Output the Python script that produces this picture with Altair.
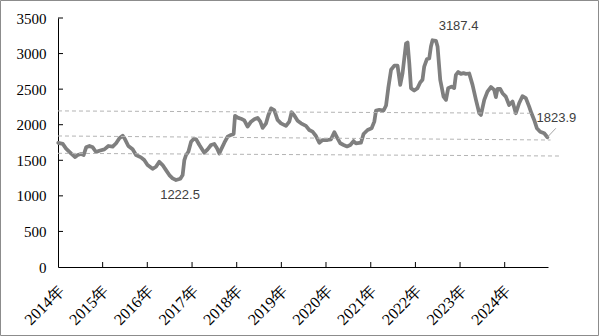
import altair as alt
import pandas as pd

# ---- main series ----
dates = [
    "2014-01-03", "2014-02-09", "2014-03-08", "2014-04-17", "2014-05-21", "2014-06-11",
    "2014-07-09", "2014-07-30", "2014-08-19", "2014-09-15", "2014-10-12", "2014-11-08",
    "2014-12-05", "2015-01-15", "2015-02-17", "2015-03-24", "2015-04-21", "2015-05-18",
    "2015-06-14", "2015-07-03", "2015-07-30", "2015-09-03", "2015-10-01", "2015-11-10",
    "2015-12-07", "2016-01-03", "2016-02-13", "2016-03-12", "2016-04-08", "2016-05-05",
    "2016-06-02", "2016-06-29", "2016-07-26", "2016-08-23", "2016-09-27", "2016-10-16",
    "2016-10-30", "2016-11-13", "2016-12-02", "2016-12-24", "2017-01-14", "2017-02-03",
    "2017-03-02", "2017-04-11", "2017-05-08", "2017-06-05", "2017-07-02", "2017-07-24",
    "2017-08-12", "2017-08-31", "2017-09-22", "2017-10-19", "2017-11-15", "2017-12-07",
    "2017-12-18", "2018-01-09", "2018-02-05", "2018-03-04", "2018-03-31", "2018-04-28",
    "2018-05-25", "2018-06-21", "2018-07-13", "2018-08-01", "2018-08-29", "2018-09-16",
    "2018-10-09", "2018-11-04", "2018-12-01", "2018-12-29", "2019-02-08", "2019-03-07",
    "2019-03-26", "2019-04-17", "2019-05-14", "2019-06-11", "2019-07-21", "2019-08-17",
    "2019-09-13", "2019-10-11", "2019-11-07", "2019-12-04", "2020-01-14", "2020-02-11",
    "2020-03-09", "2020-03-31", "2020-04-27", "2020-05-24", "2020-06-21", "2020-07-18",
    "2020-08-13", "2020-09-02", "2020-10-13", "2020-11-03", "2020-12-06", "2021-01-08",
    "2021-01-30", "2021-02-13", "2021-03-12", "2021-04-16", "2021-05-06", "2021-05-24",
    "2021-06-16", "2021-07-13", "2021-08-08", "2021-08-30", "2021-09-18", "2021-10-16",
    "2021-10-29", "2021-11-12", "2021-11-26", "2021-12-22", "2022-01-18", "2022-02-09",
    "2022-02-28", "2022-03-14", "2022-04-05", "2022-04-24", "2022-05-08", "2022-05-21",
    "2022-06-18", "2022-07-01", "2022-07-23", "2022-08-19", "2022-09-08", "2022-09-26",
    "2022-10-23", "2022-11-14", "2022-11-28", "2022-12-17", "2023-01-08", "2023-01-29",
    "2023-02-18", "2023-03-17", "2023-04-13", "2023-05-11", "2023-06-07", "2023-06-21",
    "2023-07-18", "2023-08-13", "2023-09-10", "2023-10-07", "2023-10-21", "2023-11-03",
    "2023-11-25", "2023-12-14", "2024-01-10", "2024-02-06", "2024-03-05", "2024-04-01",
    "2024-04-28", "2024-05-25", "2024-06-22", "2024-07-19", "2024-08-07", "2024-08-29",
    "2024-09-20", "2024-10-17", "2024-11-19", "2024-12-15",
]
values = [
    1745, 1730, 1665, 1598, 1545, 1574,
    1588, 1574, 1682, 1701, 1682, 1616,
    1634, 1654, 1701, 1691, 1739, 1809,
    1845, 1795, 1701, 1654, 1574, 1541,
    1503, 1433, 1380, 1409, 1479, 1433,
    1362, 1292, 1246, 1222.5, 1240, 1292,
    1503, 1574, 1620, 1761, 1800, 1795,
    1715, 1606, 1654, 1715, 1730, 1668,
    1595, 1668, 1747, 1832, 1856, 1870,
    2125, 2100, 2085, 2060, 1973, 2043,
    2077, 2095, 2043, 1955, 2020, 2130,
    2230, 2205, 2067, 2020, 1983, 2043,
    2175, 2130, 2057, 2020, 1983, 1926,
    1902, 1842, 1747, 1785, 1785, 1795,
    1895, 1823, 1739, 1715, 1695, 1715,
    1770, 1739, 1747, 1870, 1926, 1950,
    2043, 2200, 2210, 2200, 2270, 2514,
    2772, 2830, 2830, 2560, 2725, 3140,
    3155, 2866, 2514, 2480, 2514, 2593,
    2631, 2818, 2922, 2930, 3100, 3187.4,
    3180, 3100, 2631, 2395, 2349, 2514,
    2536, 2514, 2701, 2740, 2715, 2725,
    2715, 2720, 2560, 2349, 2161, 2137,
    2349, 2466, 2530, 2490, 2387, 2505,
    2505, 2443, 2395, 2278, 2325, 2161,
    2302, 2400, 2373, 2254, 2161, 2067,
    1950, 1902, 1880, 1823.9,
]

# ---- dashed reference lines (start / end) ----
ref_start_dates = ["2014-01-01", "2014-01-01", "2014-01-01"]
ref_start_values = [2194, 1842, 1598]
ref_end_dates = ["2024-08-12", "2025-01-10", "2025-04-04"]
ref_end_values = [2161, 1785, 1560]

# ---- annotations ----
ann_dates = ["2022-05-21", "2016-08-23", "2024-12-15"]
ann_values = [3187.4, 1222.5, 1823.9]
ann_texts = ["3187.4", "1222.5", "1823.9"]
leader_end_date = "2025-02-22"
leader_end_value = 1950

years = list(range(2014, 2025))
y_ticks = [0, 500, 1000, 1500, 2000, 2500, 3000, 3500]

W, H = 490, 249
SERIF = "Times New Roman, Liberation Serif, serif"

series = pd.DataFrame({"date": pd.to_datetime(dates), "value": values})
refs = pd.DataFrame({
    "date": pd.to_datetime(ref_start_dates), "value": ref_start_values,
    "d2": pd.to_datetime(ref_end_dates), "v2": ref_end_values,
})
ann = pd.DataFrame({"date": pd.to_datetime(ann_dates), "value": ann_values, "text": ann_texts})
leader = pd.DataFrame({
    "date": pd.to_datetime([ann_dates[2]]), "value": [ann_values[2]],
    "d2": pd.to_datetime([leader_end_date]), "v2": [leader_end_value],
})
xticks = pd.DataFrame({"date": pd.to_datetime([f"{y}-01-01" for y in years[1:]])})
yticks = pd.DataFrame({"value": y_ticks[1:]})

xscale = alt.Scale(domain=[alt.DateTime(year=2014, month=1, date=1),
                           alt.DateTime(year=2024, month=12, date=20)])
yscale = alt.Scale(domain=[0, 3500])

xaxis = alt.Axis(
    values=[alt.DateTime(year=y, month=1, date=1) for y in years],
    format="%Y年", labelAngle=-45, labelAlign="right", labelBaseline="middle",
    tickSize=0, labelPadding=21, labelOffset=3, grid=False, title=None,
    labelFont=SERIF, labelFontSize=16, labelOverlap=False,
    labelColor="#000000", domainColor="#000000",
)
yaxis = alt.Axis(
    values=y_ticks, format="d", tickSize=0, labelPadding=12, grid=False, title=None,
    labelFont=SERIF, labelFontSize=15, labelOverlap=False,
    labelColor="#000000", domainColor="#000000",
)

X = alt.X("date:T", scale=xscale, axis=xaxis)
Y = alt.Y("value:Q", scale=yscale, axis=yaxis)

line = alt.Chart(series).mark_line(
    color="#7f7f7f", strokeWidth=3.75, strokeJoin="round", strokeCap="round"
).encode(x=X, y=Y)

ref_lines = alt.Chart(refs).mark_rule(
    color="#b4b4b4", strokeWidth=1, strokeDash=[4, 3]
).encode(x=X, y=Y, x2="d2:T", y2="v2:Q")

xtick_marks = alt.Chart(xticks).mark_rule(color="#000000", strokeWidth=1).encode(
    x=X, y=alt.value(H - 5), y2=alt.value(H)
)
ytick_marks = alt.Chart(yticks).mark_rule(color="#000000", strokeWidth=1).encode(
    y=Y, x=alt.value(0), x2=alt.value(5)
)

txt_style = dict(font="Liberation Sans", fontSize=13, color="#404040")
t_peak = alt.Chart(ann).transform_filter(alt.datum.text == "3187.4").mark_text(
    dx=26, dy=-14, **txt_style).encode(x=X, y=Y, text="text:N")
t_min = alt.Chart(ann).transform_filter(alt.datum.text == "1222.5").mark_text(
    dx=4, dy=15, **txt_style).encode(x=X, y=Y, text="text:N")
t_end = alt.Chart(ann).transform_filter(alt.datum.text == "1823.9").mark_text(
    dx=9, dy=-19, **txt_style).encode(x=X, y=Y, text="text:N")
leader_line = alt.Chart(leader).mark_rule(color="#a6a6a6", strokeWidth=1).encode(
    x=X, y=Y, x2="d2:T", y2="v2:Q"
)

frame = alt.Chart(pd.DataFrame({"k": [0]})).mark_rect(
    fill=None, stroke="#8c8c8c", strokeWidth=1
).encode(x=alt.value(-57.5), x2=alt.value(540.5), y=alt.value(-17.5), y2=alt.value(317.5))

chart = alt.layer(
    line, ref_lines, xtick_marks, ytick_marks, leader_line, t_peak, t_min, t_end, frame
).properties(
    width=W, height=H, background="#ffffff",
    padding={"left": 58, "top": 18, "right": 51, "bottom": 69},
    autosize=alt.AutoSizeParams(type="none"),
).configure_view(stroke=None).configure_axis(
    labelColor="#000000", domainColor="#000000", labelOverlap=False,
)

chart.save("out.html", embed_options={"renderer": "svg", "actions": False})
